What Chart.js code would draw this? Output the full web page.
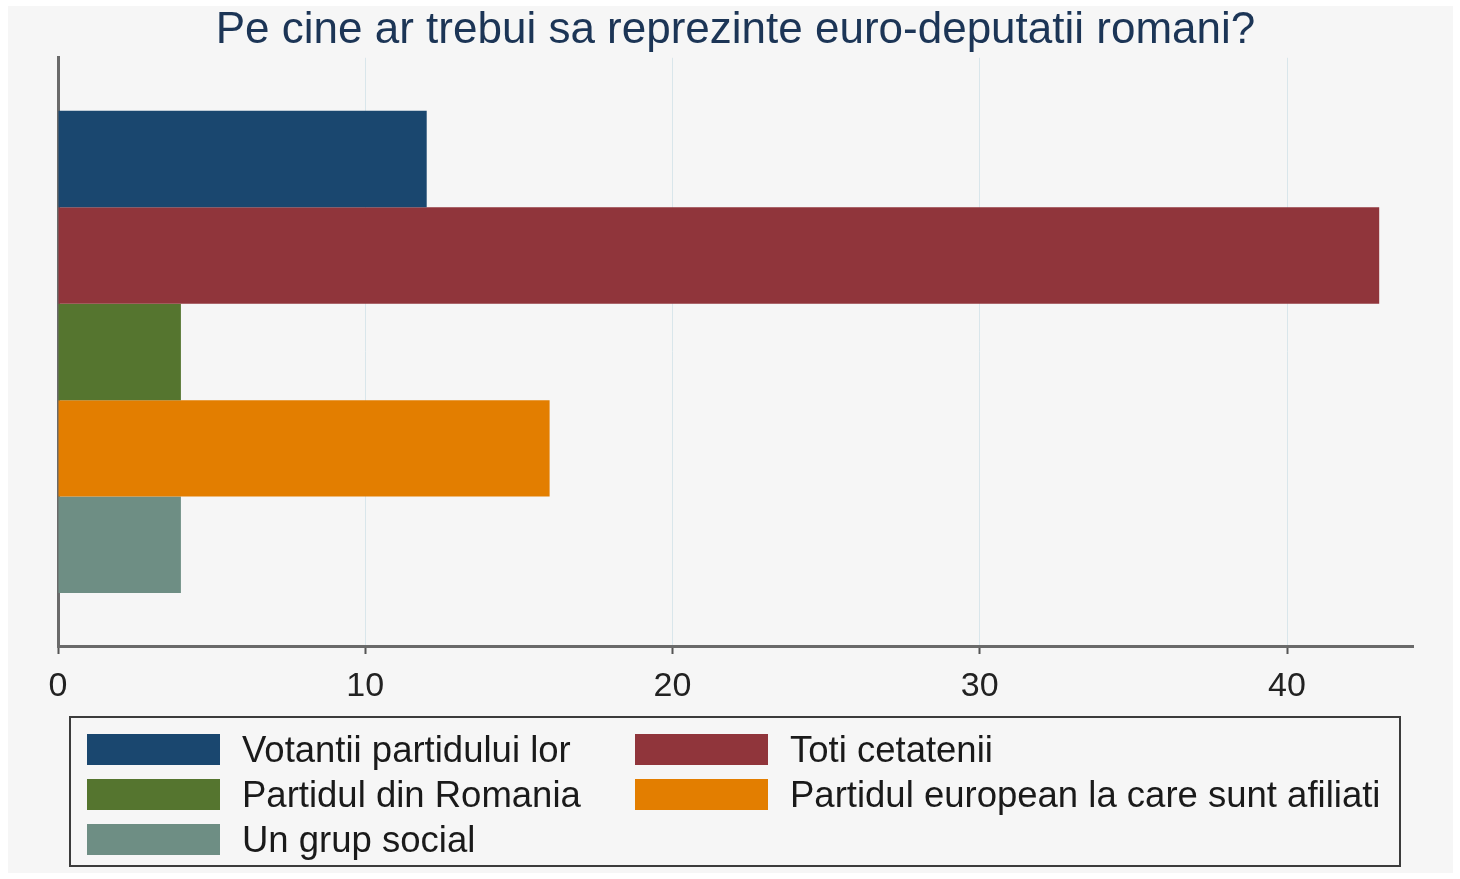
<!DOCTYPE html>
<html>
<head>
<meta charset="utf-8">
<script src="https://cdn.jsdelivr.net/npm/chart.js@4"></script>
<style>
  html, body { margin: 0; padding: 0; background: #ffffff; }
  #panel { position: absolute; left: 8px; top: 6px; width: 1445px; height: 867px; background: #f6f6f6; }
  #wrap { position: absolute; left: 0; top: 0; width: 1460px; height: 879px; }
  #legend {
    position: absolute; left: 69px; top: 716px; width: 1332px; height: 151px;
    border: 2px solid #3c3c3c; padding: 15px 0 0 16px; box-sizing: border-box;
    display: grid; grid-template-columns: 548px 1fr; grid-auto-rows: 45px;
    font-family: "Liberation Sans", Arial, sans-serif; font-size: 36.5px; color: #1a1a1a;
  }
  #legend .item { display: flex; align-items: center; height: 33px; white-space: nowrap; }
  #legend .sw { width: 133px; height: 31px; margin-right: 22px; flex: none; }
</style>
</head>
<body>
<div id="panel"></div>
<div id="wrap"><canvas id="chart" width="1460" height="879"></canvas></div>
<div id="legend"></div>
<script>
const titleText = 'Pe cine ar trebui sa reprezinte euro-deputatii romani?';
const seriesNames = [
    'Votantii partidului lor',
    'Toti cetatenii',
    'Partidul din Romania',
    'Partidul european la care sunt afiliati',
    'Un grup social',
];
const seriesValues = [12, 43, 4, 16, 4];
const seriesColors = ['#1a476f', '#90353b', '#55752f', '#e37e00', '#6e8e84'];
const xTicks = [0, 10, 20, 30, 40];
const xMax = 44.1;

const font = 'Liberation Sans, Arial, sans-serif';

const chart = new Chart(document.getElementById('chart'), {
    type: 'bar',
    data: {
        labels: [''],
        datasets: seriesNames.map((name, i) => ({
            label: name,
            data: [seriesValues[i]],
            backgroundColor: seriesColors[i],
            borderWidth: 0,
            categoryPercentage: 0.82,
            barPercentage: 1,
        })),
    },
    options: {
        responsive: false,
        animation: false,
        indexAxis: 'y',
        layout: { padding: { left: 58, right: 47, top: 0, bottom: 0 } },
        plugins: {
            legend: { display: false },
            tooltip: { enabled: false },
            title: {
                display: true,
                text: titleText,
                color: '#1c3556',
                font: { family: font, size: 44, weight: 'normal' },
                padding: { top: 4, bottom: 1 },
            },
        },
        scales: {
            x: {
                min: 0,
                max: xMax,
                afterBuildTicks: (scale) => {
                    scale.ticks = xTicks.map(v => ({ value: v }));
                },
                afterFit: (scale) => { scale.height = 233; },
                border: { display: true, color: '#6a6a6a', width: 3 },
                grid: {
                    color: 'rgba(214, 228, 234, 0.9)',
                    lineWidth: 1,
                    tickColor: '#555555',
                    tickWidth: 2,
                    tickLength: 8,
                },
                ticks: {
                    color: '#222222',
                    padding: 12,
                    font: { family: font, size: 34 },
                    maxRotation: 0,
                },
            },
            y: {
                afterFit: (scale) => { scale.width = 0; },
                border: { display: true, color: '#6a6a6a', width: 3 },
                grid: { display: false, drawTicks: false },
                ticks: { display: false },
            },
        },
    },
});

const legendEl = document.getElementById('legend');
chart.data.datasets.forEach(ds => {
    const item = document.createElement('div');
    item.className = 'item';
    const sw = document.createElement('span');
    sw.className = 'sw';
    sw.style.background = ds.backgroundColor;
    const txt = document.createElement('span');
    txt.textContent = ds.label;
    item.appendChild(sw);
    item.appendChild(txt);
    legendEl.appendChild(item);
});
</script>
</body>
</html>
